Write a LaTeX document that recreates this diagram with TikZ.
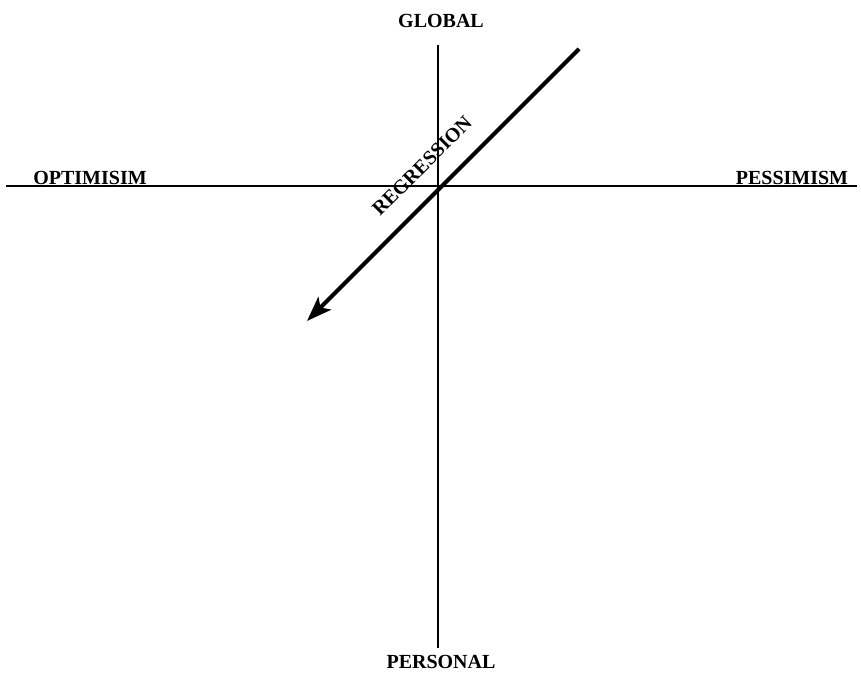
\documentclass[tikz,border=0pt]{standalone}
\usepackage{fontspec}
\setmainfont{Liberation Serif}
\usetikzlibrary{arrows.meta}
\begin{document}
\begin{tikzpicture}[x=1pt,y=-1pt,
  axis/.style={line width=2.2pt},
  lbl/.style={font=\fontsize{20}{23}\selectfont\bfseries, inner sep=0pt},
  regarrow/.style={line width=4pt, -{Stealth[length=25pt,width=18pt,inset=6pt]}}]
\useasboundingbox (0,0) rectangle (861,674);
\coordinate (vtop) at (438,45);
\coordinate (vbot) at (438,648);
\coordinate (hleft) at (6,186);
\coordinate (hright) at (857,186);
\coordinate (astart) at (579,49);
\coordinate (aend) at (307,321);
\draw[axis] (vtop) -- (vbot);
\draw[axis] (hleft) -- (hright);
\draw[regarrow] (astart) -- (aend);
\node[lbl] (global) at (441,21) {GLOBAL};
\node[lbl] (personal) at (441,662) {PERSONAL};
\node[lbl] (optimism) at (90,178) {OPTIMISIM};
\node[lbl] (pessimism) at (792,178) {PESSIMISM};
\node[lbl, rotate=45] (regression) at (422,166) {REGRESSION};
\end{tikzpicture}
\end{document}
